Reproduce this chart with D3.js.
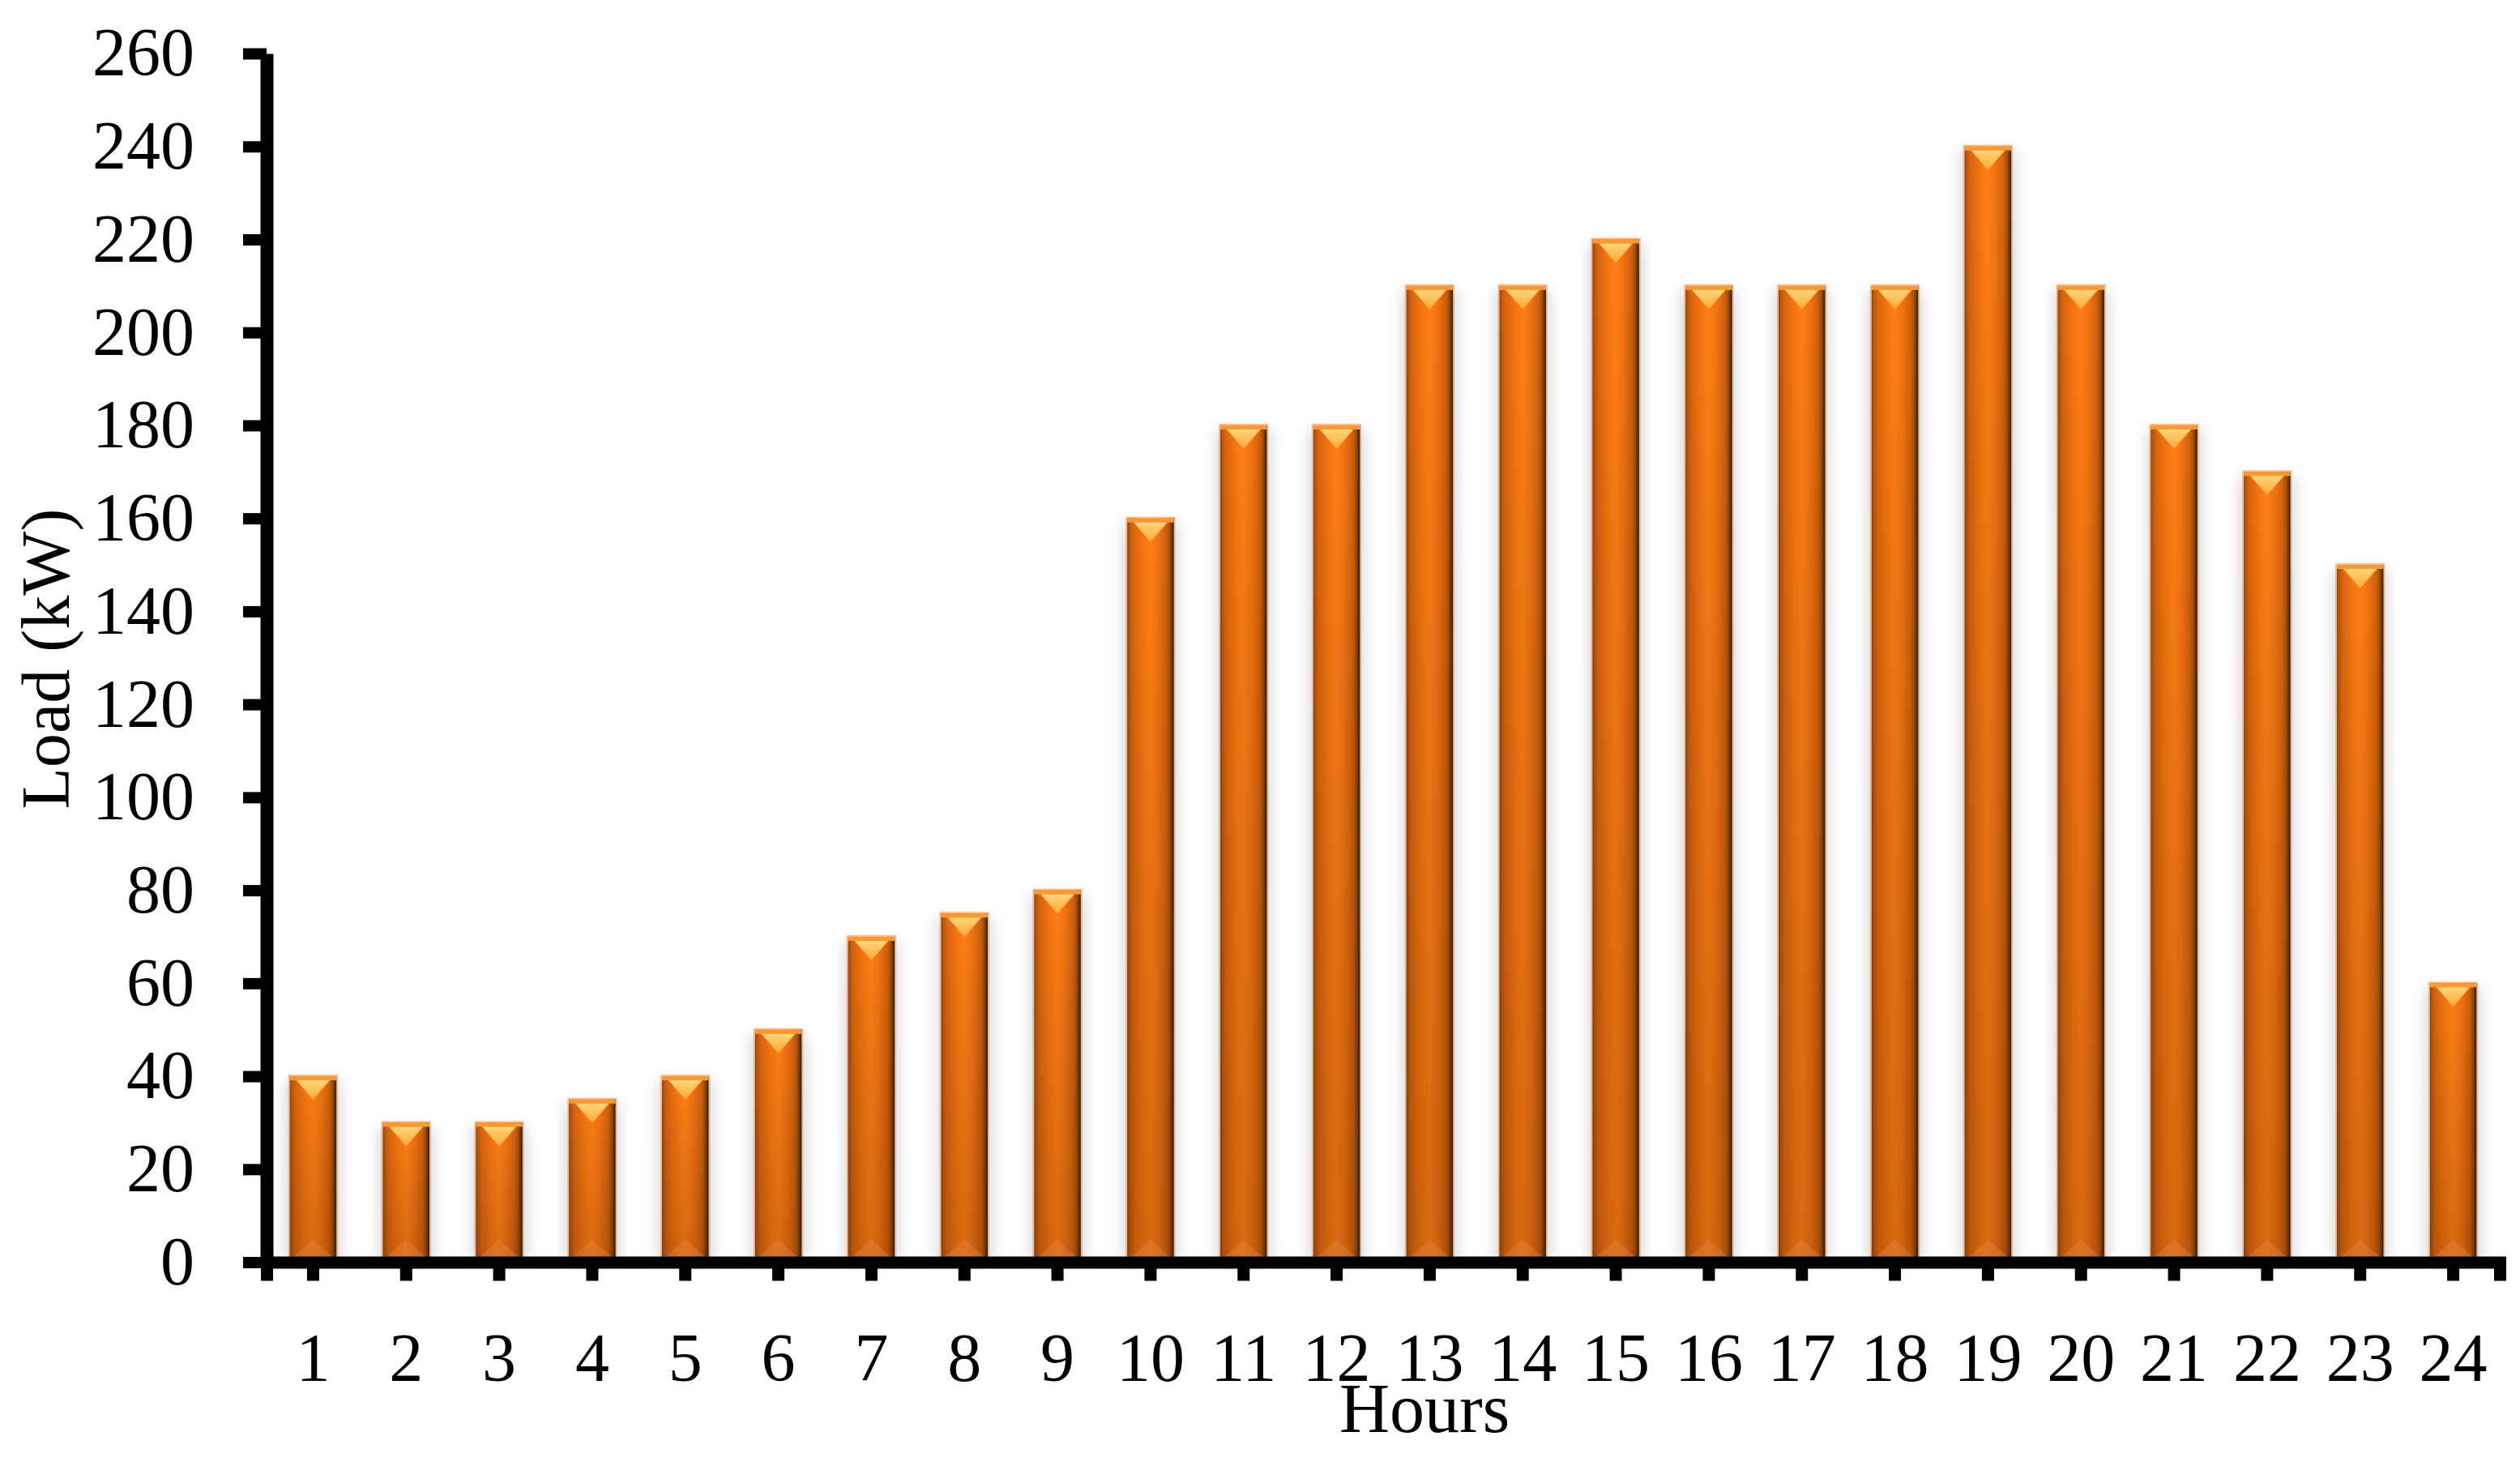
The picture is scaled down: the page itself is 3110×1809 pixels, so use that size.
<!DOCTYPE html>
<html>
<head>
<meta charset="utf-8">
<script src="https://cdn.jsdelivr.net/npm/d3@7"></script>
<style>
  body { margin: 0; background: #fff; }
  svg { display: block; }
  text { font-family: "Liberation Serif", "DejaVu Serif", serif; fill: #000; }
</style>
</head>
<body>
<svg id="board"></svg>
<script>
// chart data
let hours = ['1','2','3','4','5','6','7','8','9','10','11','12','13','14','15','16','17','18','19','20','21','22','23','24']
let loads = [40, 30, 30, 35, 40, 50, 70, 75, 80, 160, 180, 180, 210, 210, 220, 210, 210, 210, 240, 210, 180, 170, 150, 60]
let yTicks = [0, 20, 40, 60, 80, 100, 120, 140, 160, 180, 200, 220, 240, 260]

let width = 3110
let height = 1809
let plotLeft = 329, plotRight = 3085, plotTop = 66, plotBottom = 1557.5

let board = d3.select('#board').attr('width', width).attr('height', height)

let x = d3.scaleBand().domain(hours).range([plotLeft, plotRight]).paddingInner(0.5).paddingOuter(0.25)
let y = d3.scaleLinear().domain([0, 260]).range([plotBottom, plotTop])

// gradients and shadow
let defs = board.append('defs')
let side = defs.append('linearGradient').attr('id', 'side').attr('x1', 0).attr('x2', 1).attr('y1', 0).attr('y2', 0)
let sideStops = [[0, '#8c4210'], [0.04, '#b5560e'], [0.12, '#d9650f'], [0.35, '#f7780f'], [0.5, '#ff7f17'],
                 [0.66, '#f27412'], [0.84, '#d0600c'], [0.91, '#a8500a'], [0.96, '#6e3306'], [1, '#3f1c02']]
sideStops.forEach(s => side.append('stop').attr('offset', s[0]).attr('stop-color', s[1]))

let shade = defs.append('linearGradient').attr('id', 'shade').attr('x1', 0).attr('x2', 0).attr('y1', 0).attr('y2', 1)
shade.append('stop').attr('offset', 0).attr('stop-color', '#000').attr('stop-opacity', 0)
shade.append('stop').attr('offset', 1).attr('stop-color', '#3a1500').attr('stop-opacity', 0.2)

let cap = defs.append('linearGradient').attr('id', 'cap').attr('x1', 0).attr('x2', 0).attr('y1', 0).attr('y2', 1)
cap.append('stop').attr('offset', 0).attr('stop-color', '#ffd577')
cap.append('stop').attr('offset', 1).attr('stop-color', '#ffa93c')

let blur = defs.append('filter').attr('id', 'blur').attr('x', '-50%').attr('y', '-10%').attr('width', '200%').attr('height', '120%')
blur.append('feGaussianBlur').attr('stdDeviation', 8)

// bars
let bw = x.bandwidth()
let bars = board.append('g').selectAll('g')
    .data(loads)
    .enter()
    .append('g')
    .attr('transform', (d, i) => 'translate(' + x(hours[i]) + ',0)')

bars.append('rect')
    .attr('x', -6).attr('width', bw + 12)
    .attr('y', d => y(d) + 6).attr('height', d => plotBottom - y(d) - 6)
    .attr('fill', '#8a8a8a').attr('opacity', 0.3)
    .attr('filter', 'url(#blur)')

bars.append('rect')
    .attr('x', -2).attr('width', bw + 4)
    .attr('y', d => y(d) - 2).attr('height', d => plotBottom - y(d) + 2)
    .attr('fill', '#d49a70').attr('opacity', 0.55)

bars.append('rect')
    .attr('x', 0).attr('width', bw)
    .attr('y', d => y(d)).attr('height', d => plotBottom - y(d))
    .attr('fill', 'url(#side)')

bars.append('rect')
    .attr('x', 0).attr('width', bw)
    .attr('y', d => y(d)).attr('height', d => plotBottom - y(d))
    .attr('fill', 'url(#shade)')

bars.append('path')
    .attr('d', d => 'M' + 5 + ',' + (plotBottom - 7) + 'L' + (bw / 2) + ',' + (plotBottom - 28) + 'L' + (bw - 5) + ',' + (plotBottom - 7) + 'Z')
    .attr('fill', '#e98a4a').attr('opacity', 0.35)

bars.append('rect')
    .attr('x', 0).attr('width', bw)
    .attr('y', d => y(d)).attr('height', 5)
    .attr('fill', '#ff9733')

bars.append('path')
    .attr('d', d => 'M' + 8 + ',' + (y(d) + 5) + 'L' + (bw / 2) + ',' + (y(d) + 29) + 'L' + (bw - 8) + ',' + (y(d) + 5) + 'Z')
    .attr('fill', 'url(#cap)')

// axes
let xAxis = d3.axisBottom(x).tickSize(23).tickSizeOuter(23).tickPadding(64)
let yAxis = d3.axisLeft(y).tickValues(yTicks).tickSize(29).tickSizeOuter(0).tickPadding(60)

let gx = board.append('g').attr('transform', 'translate(0,' + plotBottom + ')').call(xAxis)
let gy = board.append('g').attr('transform', 'translate(' + plotLeft + ',0)').call(yAxis)

gx.select('.domain').attr('stroke', '#000').attr('stroke-width', 15)
gx.selectAll('.tick line').attr('stroke', '#000').attr('stroke-width', 15)
gy.select('.domain').attr('stroke', '#000').attr('stroke-width', 16)
gy.selectAll('.tick line').attr('stroke', '#000').attr('stroke-width', 14)

gx.selectAll('text').attr('font-size', 84).attr('font-family', '"Liberation Serif", serif')
gy.selectAll('text').attr('font-size', 84).attr('font-family', '"Liberation Serif", serif')

// axis titles
board.append('text')
    .attr('x', 1758).attr('y', 1767)
    .attr('text-anchor', 'middle')
    .attr('font-size', 86)
    .text('Hours')

board.append('text')
    .attr('transform', 'translate(85,813) rotate(-90)')
    .attr('text-anchor', 'middle')
    .attr('font-size', 84)
    .text('Load (kW)')
</script>
</body>
</html>
